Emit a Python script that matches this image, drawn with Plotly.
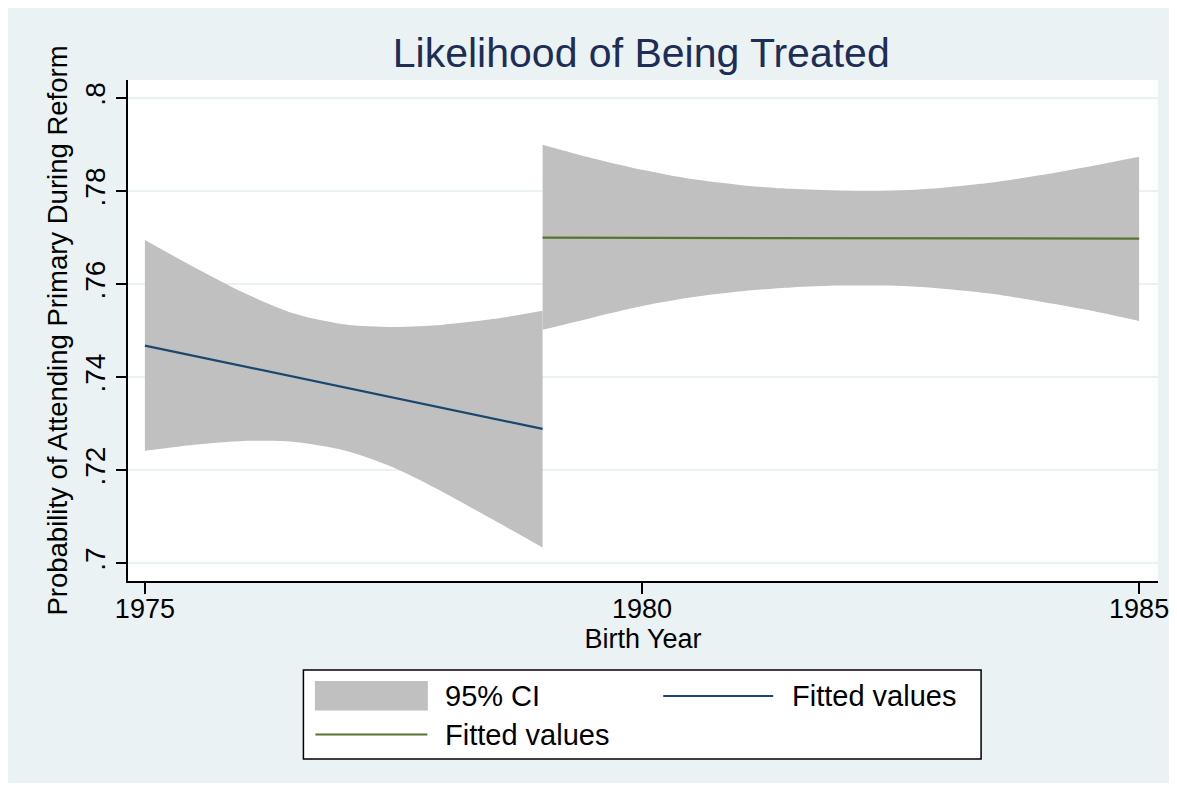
import plotly.graph_objects as go

# ---------------- data ----------------
left_years = [1975, 1975.5, 1976, 1976.5, 1977, 1977.5, 1978, 1978.5, 1979]
left_ci_upper = [0.7695, 0.7636, 0.7581, 0.7537, 0.7514, 0.7508, 0.7513, 0.7525, 0.7543]
left_ci_lower = [0.7242, 0.7255, 0.7263, 0.7261, 0.7243, 0.7206, 0.7153, 0.7094, 0.7034]

right_years = [1979, 1979.5, 1980, 1980.5, 1981, 1981.5, 1982, 1982.5, 1983, 1983.5, 1984, 1984.5, 1985]
right_ci_upper = [0.7900, 0.7871, 0.7846, 0.7826, 0.7813, 0.7805, 0.7801, 0.7801, 0.7807, 0.7818, 0.7834, 0.7853, 0.7874]
right_ci_lower = [0.7502, 0.7528, 0.7553, 0.7572, 0.7585, 0.7593, 0.7597, 0.7597, 0.7591, 0.7580, 0.7563, 0.7544, 0.7521]

fit_left_years = [1975, 1979]
fit_left_values = [0.7468, 0.7289]
fit_right_years = [1979, 1985]
fit_right_values = [0.7700, 0.7698]

x_tick_vals = [1975, 1980, 1985]
x_tick_text = ["1975", "1980", "1985"]
y_tick_vals = [0.70, 0.72, 0.74, 0.76, 0.78, 0.80]
y_tick_text = [".7", ".72", ".74", ".76", ".78", ".8"]

title_text = "Likelihood of Being Treated"
x_title = "Birth Year"
y_title = "Probability of Attending Primary During Reform"
legend_labels = ["95% CI", "Fitted values", "Fitted values"]

# ---------------- styling ----------------
OFF = 8                       # page body margin
W, H = 1169, 775              # figure size (fills the window without scrollbars)
# plot area: page pixels converted to figure pixels
PL, PR, PT, PB = 127.5 - OFF, 1158.0 - OFF, 80.0 - OFF, 581.0 - OFF
BG = "#EAF2F3"
CI_COLOR = "#C0C0C0"
BLUE = "#1A476F"
GREEN = "#55752F"
TITLE_COLOR = "#1E2D55"
FONT = "Liberation Sans, Arial, Helvetica, sans-serif"


def px2x(px):   # page pixel -> paper x
    return (px - OFF - PL) / (PR - PL)


def px2y(py):   # page pixel -> paper y
    return (PB - (py - OFF)) / (PB - PT)


fig = go.Figure()

# confidence bands
for yrs, lo, up in [(left_years, left_ci_lower, left_ci_upper),
                    (right_years, right_ci_lower, right_ci_upper)]:
    fig.add_trace(go.Scatter(x=yrs, y=lo, mode="lines",
                             line=dict(width=0, shape="spline", smoothing=0.8, color=CI_COLOR),
                             showlegend=False, hoverinfo="skip"))
    fig.add_trace(go.Scatter(x=yrs, y=up, mode="lines",
                             line=dict(width=0, shape="spline", smoothing=0.8, color=CI_COLOR),
                             fill="tonexty", fillcolor=CI_COLOR, showlegend=False, name=legend_labels[0]))

fig.add_trace(go.Scatter(x=fit_left_years, y=fit_left_values, mode="lines",
                         line=dict(color=BLUE, width=2.2), showlegend=False, name=legend_labels[1]))
fig.add_trace(go.Scatter(x=fit_right_years, y=fit_right_values, mode="lines",
                         line=dict(color=GREEN, width=2.2), showlegend=False, name=legend_labels[2]))

shapes = []
annotations = []

# legend box (drawn in page pixel positions)
shapes.append(dict(type="rect", xref="paper", yref="paper", x0=px2x(303), x1=px2x(981),
                   y0=px2y(759), y1=px2y(670), fillcolor="white", line=dict(color="black", width=1.5)))
shapes.append(dict(type="rect", xref="paper", yref="paper", x0=px2x(314.5), x1=px2x(427.5),
                   y0=px2y(710.5), y1=px2y(681), fillcolor=CI_COLOR, line=dict(width=0)))
shapes.append(dict(type="line", xref="paper", yref="paper", x0=px2x(663), x1=px2x(773),
                   y0=px2y(696), y1=px2y(696), line=dict(color=BLUE, width=2.2)))
shapes.append(dict(type="line", xref="paper", yref="paper", x0=px2x(315), x1=px2x(427),
                   y0=px2y(734.5), y1=px2y(734.5), line=dict(color=GREEN, width=2.2)))

for txt, lx, ly in [(legend_labels[0], 443, 696), (legend_labels[1], 790, 696), (legend_labels[2], 443, 734.5)]:
    annotations.append(dict(text=txt, xref="paper", yref="paper", x=px2x(lx), y=px2y(ly),
                            xanchor="left", yanchor="middle", showarrow=False,
                            font=dict(family=FONT, size=29, color="black")))

fig.update_layout(
    width=W, height=H, autosize=False,
    margin=dict(l=PL, r=W - PR, t=PT, b=H - PB, pad=0, autoexpand=False),
    paper_bgcolor=BG, plot_bgcolor="white",
    font=dict(family=FONT, color="black"),
    title=dict(text=title_text, x=px2x(641), xref="paper", xanchor="center",
               y=1 - (53 - OFF) / H, yref="container", yanchor="middle",
               font=dict(family=FONT, size=41, color=TITLE_COLOR)),
    shapes=shapes, annotations=annotations, showlegend=False,
)

fig.update_xaxes(range=[1974.83, 1985.19], tickvals=x_tick_vals, ticktext=x_tick_text, automargin=False,
                 showgrid=False, zeroline=False, showline=True, linecolor="black", linewidth=1.5,
                 ticks="outside", ticklen=11, tickwidth=1.5, tickcolor="black", ticklabelstandoff=-8,
                 tickfont=dict(family=FONT, size=27, color="black"),
                 title=dict(text=x_title, font=dict(family=FONT, size=27, color="black"), standoff=0))

fig.update_yaxes(range=[0.6962, 0.8039], tickvals=y_tick_vals, ticktext=y_tick_text, tickangle=-90,
                 automargin=False,
                 showgrid=True, gridcolor=BG, gridwidth=2, zeroline=False,
                 showline=True, linecolor="black", linewidth=1.5,
                 ticks="outside", ticklen=10, tickwidth=1.5, tickcolor="black",
                 tickfont=dict(family=FONT, size=28, color="black"),
                 title=dict(text=y_title, font=dict(family=FONT, size=27.5, color="black"), standoff=4))

fig.write_html("out.html")
